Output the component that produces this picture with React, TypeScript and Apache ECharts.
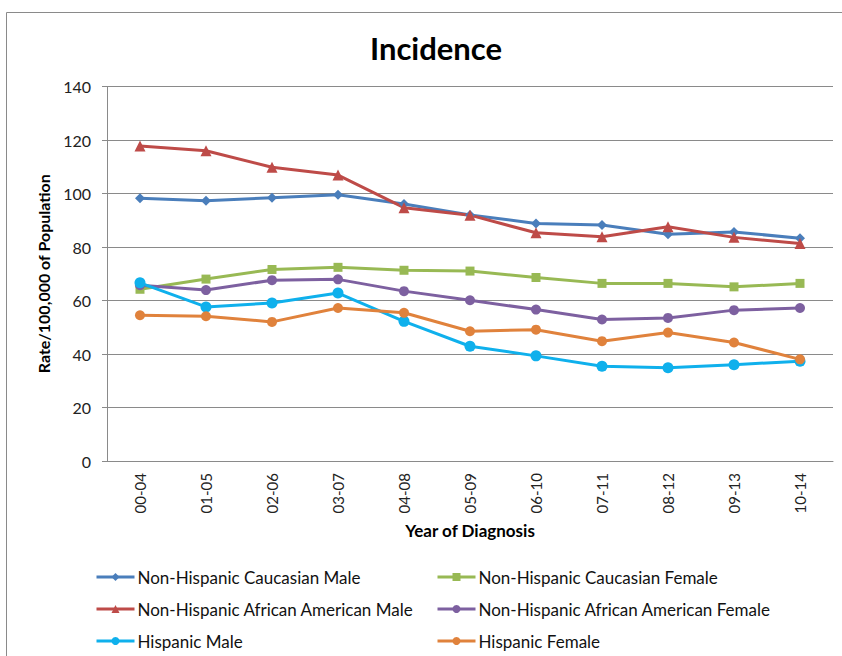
import React, { useEffect, useRef } from "react";
import * as echarts from "echarts";

const categories = ["00-04", "01-05", "02-06", "03-07", "04-08", "05-09", "06-10", "07-11", "08-12", "09-13", "10-14"];

const nhCaucasianMale = [98.2, 97.3, 98.4, 99.5, 96.1, 92.0, 88.8, 88.2, 84.8, 85.6, 83.3];
const nhCaucasianFemale = [64.2, 68.0, 71.6, 72.4, 71.3, 71.0, 68.6, 66.4, 66.4, 65.1, 66.4];
const nhAfricanAmericanMale = [117.8, 116.0, 109.8, 106.9, 94.7, 91.9, 85.3, 83.8, 87.6, 83.6, 81.3];
const nhAfricanAmericanFemale = [65.7, 63.9, 67.6, 67.9, 63.5, 60.1, 56.6, 52.9, 53.5, 56.4, 57.2];
const hispanicMale = [66.6, 57.6, 59.1, 62.8, 52.2, 42.9, 39.3, 35.4, 34.9, 36.0, 37.3];
const hispanicFemale = [54.5, 54.1, 52.0, 57.2, 55.4, 48.5, 49.1, 44.8, 48.0, 44.3, 38.0];

const seriesNames = [
  "Non-Hispanic Caucasian Male",
  "Non-Hispanic Caucasian Female",
  "Non-Hispanic African American Male",
  "Non-Hispanic African American Female",
  "Hispanic Male",
  "Hispanic Female",
];
const seriesData = [nhCaucasianMale, nhCaucasianFemale, nhAfricanAmericanMale, nhAfricanAmericanFemale, hispanicMale, hispanicFemale];
const seriesColors = ["#4A7EBB", "#98B954", "#BE4B48", "#7D60A0", "#0FB0EC", "#E0823C"];
const seriesSymbols = ["diamond", "rect", "triangle", "circle", "circle", "circle"];
const seriesSymbolSizes = [10, 9, 11, 10, 11, 10];

const yTicks = { min: 0, max: 140, interval: 20 };

const FONT = "Lato, 'Liberation Sans', Arial, sans-serif";

export default function App() {
  const ref = useRef<HTMLDivElement>(null);
  useEffect(() => {
    if (!ref.current) return;
    const chart = echarts.init(ref.current, null, { renderer: "svg" });
    const legendCols = [90, 431];
    const legendRows = [562, 594, 626];
    const legends = seriesNames.map((name, i) => ({
      left: legendCols[i % 2],
      top: legendRows[Math.floor(i / 2)],
      itemWidth: 38,
      itemHeight: 10,
      lineStyle: { width: 3 },
      data: [name],
      textStyle: { fontFamily: FONT, fontSize: 17, color: "#111", lineHeight: 20, padding: [0, 0, 0, -2] },
    }));
    chart.setOption({
      animation: false,
      backgroundColor: "#fff",
      title: {
        text: "Incidence",
        left: 431,
        top: 27,
        textAlign: "center",
        textStyle: { fontFamily: FONT, fontSize: 31, fontWeight: "bold", color: "#000" },
      },
      graphic: [
        {
          type: "rect",
          shape: { x: 6.5, y: 12.5, width: 900, height: 700 },
          style: { fill: "none", stroke: "#8a8a8a", lineWidth: 1 },
          z: -1,
        },
      ],
      legend: legends,
      grid: { left: 107, right: 9, top: 86.5, bottom: 195, containLabel: false },
      xAxis: {
        type: "category",
        data: categories,
        boundaryGap: true,
        name: "Year of Diagnosis",
        nameLocation: "middle",
        nameGap: 61,
        nameTextStyle: { fontFamily: FONT, fontSize: 17, fontWeight: "bold", color: "#000" },
        axisLine: { show: true, lineStyle: { color: "#8a8a8a", width: 1 } },
        axisTick: { show: false },
        axisLabel: { rotate: 90, margin: 12, fontFamily: FONT, fontSize: 15, color: "#222" },
      },
      yAxis: {
        type: "value",
        min: yTicks.min,
        max: yTicks.max,
        interval: yTicks.interval,
        name: "Rate/100,000 of Population",
        nameLocation: "middle",
        nameGap: 56,
        nameTextStyle: { fontFamily: FONT, fontSize: 16, fontWeight: "bold", color: "#000" },
        axisLine: { show: true, lineStyle: { color: "#8a8a8a", width: 1 } },
        axisTick: { show: true, length: 5, lineStyle: { color: "#8a8a8a" } },
        axisLabel: { margin: 16, fontFamily: FONT, fontSize: 16, color: "#222" },
        splitLine: { show: true, lineStyle: { color: "#8a8a8a", width: 1 } },
      },
      series: seriesNames.map((name, i) => ({
        name,
        type: "line",
        data: seriesData[i],
        symbol: seriesSymbols[i],
        symbolSize: seriesSymbolSizes[i],
        showAllSymbol: true,
        lineStyle: { color: seriesColors[i], width: 3 },
        itemStyle: { color: seriesColors[i] },
        emphasis: { disabled: true },
      })),
    });
    return () => chart.dispose();
  }, []);
  return <div ref={ref} style={{ width: 842, height: 656, position: "absolute", left: 0, top: 0 }} />;
}
